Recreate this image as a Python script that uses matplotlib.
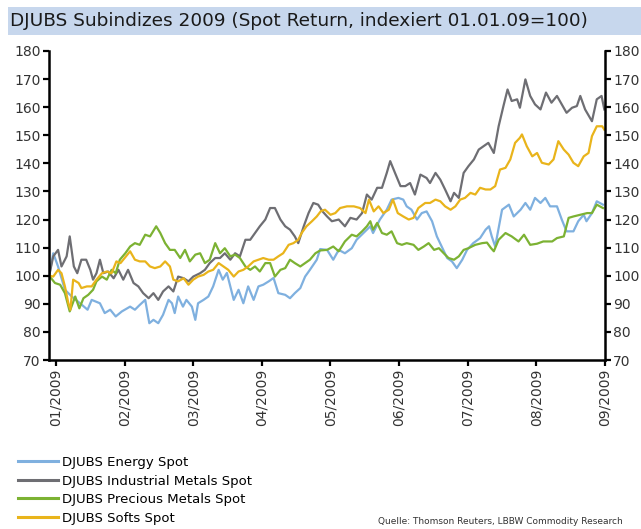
#!/usr/bin/env python3
"""
DJUBS Subindizes 2009, spot return indexed to 01.01.09 = 100
"""

import matplotlib
matplotlib.use('Agg')
import matplotlib.pyplot as plt
from matplotlib.patches import Rectangle
from matplotlib.lines import Line2D

plt.rcParams['font.family'] = ['DejaVu Sans']

month_labels = ['01/2009', '02/2009', '03/2009', '04/2009', '05/2009',
                '06/2009', '07/2009', '08/2009', '09/2009']
series_names = ['DJUBS Energy Spot', 'DJUBS Industrial Metals Spot',
                'DJUBS Precious Metals Spot', 'DJUBS Softs Spot']
colors = ['#7fb0df', '#6e6e73', '#7cb233', '#e9b41b']

# month position (0 = 01/2009) and index value
energy_x = [-0.10, -0.04, 0.03, 0.13, 0.23, 0.35, 0.46, 0.52, 0.64, 0.71, 0.79, 0.87, 0.96,
            1.08, 1.15, 1.22, 1.30, 1.36, 1.42, 1.49, 1.56, 1.64, 1.69, 1.73, 1.78, 1.85,
            1.90, 1.98, 2.03, 2.07, 2.15, 2.22, 2.29, 2.37, 2.43, 2.49, 2.59, 2.66, 2.73,
            2.80, 2.88, 2.95, 3.02, 3.10, 3.17, 3.24, 3.34, 3.41, 3.48, 3.56, 3.63, 3.70,
            3.80, 3.85, 3.95, 4.04, 4.12, 4.21, 4.31, 4.38, 4.48, 4.58, 4.62, 4.72, 4.82,
            4.89, 4.99, 5.06, 5.11, 5.18, 5.26, 5.33, 5.40, 5.48, 5.55, 5.62, 5.70, 5.77,
            5.84, 5.92, 5.99, 6.08, 6.18, 6.26, 6.31, 6.35, 6.40, 6.50, 6.60, 6.67, 6.77,
            6.84, 6.91, 6.98, 7.06, 7.13, 7.20, 7.30, 7.37, 7.44, 7.54, 7.61, 7.69, 7.73,
            7.81, 7.88, 7.97]
energy = [100.0, 108.0, 103.3, 95.0, 92.6, 90.2, 87.9, 91.4, 90.2, 86.7, 87.9, 85.5, 87.3,
          89.0, 87.9, 89.6, 91.4, 83.1, 84.3, 83.1, 86.1, 91.4, 90.2, 86.7, 92.6, 89.0,
          91.4, 89.0, 84.3, 90.2, 91.4, 92.6, 96.2, 102.1, 98.6, 101.0, 91.4, 95.0, 90.2,
          96.2, 91.4, 96.2, 96.8, 98.0, 99.2, 93.8, 93.2, 92.0, 93.8, 95.6, 99.7, 102.1,
          105.7, 109.5, 109.2, 105.7, 109.2, 108.0, 109.8, 112.8, 115.2, 117.6, 115.2, 120.0, 123.5,
          127.1, 127.7, 127.1, 124.7, 123.5, 120.0, 122.3, 122.9, 119.4, 114.0, 110.4, 106.3, 105.1,
          102.7, 105.7, 109.2, 111.6, 113.4, 116.4, 117.6, 114.0, 110.4, 123.5, 125.3, 121.1, 123.5,
          125.9, 123.5, 127.7, 125.9, 127.7, 124.7, 124.7, 120.0, 115.8, 115.8, 119.4, 121.7, 119.4,
          122.3, 126.5, 125.3]

indmet_x = [-0.10, -0.04, 0.03, 0.08, 0.155, 0.20, 0.26, 0.31, 0.37, 0.44, 0.50, 0.54, 0.59,
            0.64, 0.69, 0.76, 0.84, 0.91, 0.98, 1.05, 1.13, 1.20, 1.27, 1.35, 1.42, 1.49,
            1.56, 1.64, 1.71, 1.78, 1.86, 1.93, 2.00, 2.10, 2.17, 2.24, 2.32, 2.39, 2.46,
            2.54, 2.61, 2.68, 2.76, 2.83, 2.90, 2.97, 3.05, 3.12, 3.19, 3.27, 3.34, 3.41,
            3.48, 3.53, 3.61, 3.68, 3.75, 3.82, 3.88, 3.95, 4.02, 4.12, 4.21, 4.29, 4.38,
            4.46, 4.53, 4.60, 4.68, 4.75, 4.82, 4.87, 4.94, 5.02, 5.09, 5.16, 5.23, 5.31,
            5.40, 5.45, 5.53, 5.60, 5.67, 5.75, 5.80, 5.87, 5.94, 6.01, 6.09, 6.16, 6.23,
            6.30, 6.38, 6.45, 6.52, 6.58, 6.64, 6.72, 6.76, 6.84, 6.91, 6.98, 7.06, 7.14,
            7.22, 7.30, 7.37, 7.44, 7.52, 7.59, 7.64, 7.71, 7.81, 7.88, 7.95, 7.99]
indmet = [100.0, 106.9, 109.2, 103.3, 106.9, 114.0, 103.3, 100.9, 105.7, 105.7, 102.1, 98.6, 100.9,
          105.7, 100.9, 101.5, 99.1, 102.1, 98.6, 102.1, 97.4, 96.2, 93.8, 92.0, 93.8, 91.4,
          94.4, 96.2, 94.4, 99.7, 99.1, 98.0, 99.7, 100.9, 102.1, 104.5, 106.3, 106.3, 108.0,
          105.7, 108.0, 106.9, 112.8, 112.8, 115.2, 117.6, 120.0, 124.1, 124.1, 120.0, 117.6, 116.4,
          114.0, 111.6, 117.6, 122.3, 125.9, 125.3, 123.0, 121.1, 119.4, 120.0, 117.6, 120.6, 120.0,
          122.3, 128.9, 127.1, 131.3, 131.3, 136.6, 140.8, 136.6, 131.9, 131.9, 133.0, 128.9, 136.0,
          134.8, 133.0, 136.6, 134.2, 130.7, 126.5, 129.5, 127.7, 136.6, 139.0, 141.4, 144.9, 146.1,
          147.3, 143.7, 153.2, 160.4, 166.3, 162.2, 162.8, 159.8, 169.9, 164.0, 161.0, 159.2, 165.2,
          161.6, 164.0, 161.0, 158.0, 159.8, 160.4, 164.0, 159.2, 155.0, 162.8, 164.0, 159.2]

premet_x = [-0.10, -0.015, 0.06, 0.13, 0.20, 0.28, 0.34, 0.40, 0.47, 0.54, 0.59, 0.67, 0.74,
            0.81, 0.87, 0.93, 1.01, 1.08, 1.15, 1.22, 1.30, 1.37, 1.46, 1.52, 1.59, 1.66,
            1.73, 1.81, 1.88, 1.95, 2.03, 2.10, 2.17, 2.24, 2.32, 2.39, 2.46, 2.54, 2.61,
            2.68, 2.76, 2.83, 2.90, 2.97, 3.05, 3.12, 3.19, 3.27, 3.34, 3.41, 3.48, 3.56,
            3.63, 3.70, 3.78, 3.85, 3.95, 4.04, 4.12, 4.21, 4.31, 4.38, 4.46, 4.53, 4.58,
            4.62, 4.68, 4.75, 4.82, 4.89, 4.97, 5.04, 5.11, 5.21, 5.28, 5.36, 5.43, 5.51,
            5.58, 5.65, 5.72, 5.80, 5.87, 5.94, 6.01, 6.11, 6.21, 6.28, 6.34, 6.38, 6.45,
            6.55, 6.64, 6.74, 6.82, 6.91, 7.01, 7.10, 7.23, 7.30, 7.40, 7.47, 7.54, 7.64,
            7.74, 7.81, 7.88, 7.97]
premet = [100.0, 97.4, 96.8, 93.8, 87.3, 92.6, 88.4, 92.0, 93.2, 95.0, 98.0, 99.7, 98.6,
          102.1, 100.9, 105.7, 108.0, 110.4, 111.6, 111.0, 114.6, 114.0, 117.6, 115.2, 111.6, 109.2,
          109.2, 106.3, 109.2, 105.1, 107.5, 108.0, 104.5, 105.7, 111.6, 108.0, 109.8, 106.9, 107.5,
          106.3, 103.3, 102.1, 103.3, 101.5, 104.5, 104.5, 99.7, 102.1, 102.7, 105.7, 104.5, 103.3,
          104.5, 105.7, 108.0, 109.0, 109.2, 110.4, 108.7, 112.2, 114.6, 114.0, 115.8, 117.6, 119.4,
          116.4, 118.8, 115.2, 114.6, 115.8, 111.6, 111.0, 111.6, 111.0, 109.2, 110.4, 111.6, 109.2,
          109.8, 108.0, 106.3, 105.7, 106.9, 109.2, 109.8, 111.0, 111.6, 111.8, 109.8, 108.7, 112.8,
          115.2, 114.0, 112.2, 114.6, 111.0, 111.4, 112.2, 112.2, 113.4, 114.0, 120.6, 121.1, 121.7,
          122.3, 122.3, 125.3, 124.1]

softs_x = [-0.10, -0.04, 0.03, 0.08, 0.13, 0.18, 0.21, 0.25, 0.33, 0.37, 0.45, 0.52, 0.59,
           0.67, 0.74, 0.81, 0.88, 0.94, 1.02, 1.08, 1.15, 1.22, 1.30, 1.37, 1.44, 1.52,
           1.59, 1.66, 1.71, 1.78, 1.86, 1.93, 2.00, 2.07, 2.15, 2.22, 2.29, 2.37, 2.44,
           2.51, 2.59, 2.66, 2.73, 2.80, 2.88, 2.95, 3.02, 3.10, 3.17, 3.24, 3.31, 3.39,
           3.46, 3.53, 3.58, 3.65, 3.73, 3.80, 3.86, 3.92, 4.00, 4.07, 4.14, 4.24, 4.34,
           4.43, 4.51, 4.56, 4.63, 4.70, 4.77, 4.85, 4.91, 4.98, 5.06, 5.14, 5.21, 5.28,
           5.38, 5.45, 5.53, 5.60, 5.67, 5.75, 5.82, 5.89, 5.96, 6.04, 6.11, 6.18, 6.26,
           6.33, 6.40, 6.47, 6.55, 6.62, 6.69, 6.76, 6.79, 6.86, 6.94, 7.01, 7.08, 7.18,
           7.25, 7.32, 7.40, 7.47, 7.54, 7.61, 7.69, 7.76, 7.81, 7.88, 7.96, 7.99]
softs = [100.0, 99.7, 102.1, 100.9, 96.2, 90.2, 87.9, 98.6, 97.4, 95.6, 96.2, 96.2, 98.6,
         100.9, 101.5, 100.9, 105.1, 104.5, 106.9, 108.7, 105.7, 105.1, 105.1, 103.3, 102.7, 103.3,
         105.1, 103.3, 98.6, 98.0, 99.1, 96.8, 98.6, 99.7, 100.3, 101.5, 102.1, 104.5, 103.3,
         102.1, 99.7, 101.5, 102.1, 103.3, 105.1, 105.7, 106.3, 105.7, 105.7, 106.9, 108.0, 111.0,
         111.6, 112.8, 115.2, 117.6, 119.4, 121.1, 123.0, 123.5, 121.7, 122.3, 124.1, 124.7, 124.7,
         124.1, 122.3, 127.1, 122.9, 124.7, 122.3, 123.5, 127.1, 122.3, 121.1, 120.0, 120.6, 124.1,
         125.9, 125.9, 127.1, 126.5, 124.7, 123.5, 124.7, 127.1, 127.7, 129.5, 128.9, 131.3, 130.7,
         130.7, 131.9, 137.8, 138.4, 141.4, 147.3, 149.1, 150.3, 146.1, 142.5, 143.7, 140.2, 139.6,
         141.4, 147.9, 144.9, 143.1, 140.2, 139.0, 142.5, 143.7, 149.7, 153.2, 153.2, 152.0]

y_ticks = list(range(70, 181, 10))

fig = plt.figure(figsize=(6.41, 5.29), dpi=100)

# title bar
fig.patches.append(Rectangle((8/641, 1-35/529), 633/641, 28/529, transform=fig.transFigure,
                             facecolor='#c7d7ed', edgecolor='none', zorder=0))
fig.text(10/641, 1-21/529, 'DJUBS Subindizes 2009 (Spot Return, indexiert 01.01.09=100)',
         fontsize=13.3, color='#1a1a1a', va='center', ha='left')

ax = fig.add_axes([49/641, 1-360/529, 556/641, 309/529])
all_x = [energy_x, indmet_x, premet_x, softs_x]
all_y = [energy, indmet, premet, softs]
for xs, ys, c, name in zip(all_x, all_y, colors, series_names):
    ax.plot(xs, ys, color=c, lw=1.6, label=name)

ax.set_xlim(-0.102, 8.0)
ax.set_ylim(70, 180)
ax.set_yticks(y_ticks)
ax.set_xticks(range(len(month_labels)))
ax.set_xticklabels(month_labels, rotation=90)
ax.tick_params(axis='both', direction='out', length=4, width=1.6, labelsize=10,
               colors='black', labelcolor='#333333', pad=2)
ax.tick_params(axis='y', right=True, labelright=True)
ax.spines['top'].set_visible(False)
for s in ['left', 'right', 'bottom']:
    ax.spines[s].set_linewidth(1.8)

handles = [Line2D([], [], color=c, lw=2.2) for c in colors]
fig.legend(handles, series_names, loc='upper left', bbox_to_anchor=(18/641, 1-456/529),
           frameon=False, fontsize=9.5, handlelength=3.0, handletextpad=0.3,
           labelspacing=0.42, borderaxespad=0, borderpad=0)

fig.text(623/641, 1-521/529, 'Quelle: Thomson Reuters, LBBW Commodity Research',
         fontsize=6.5, color='#333333', ha='right', va='center')

plt.savefig('out.png', dpi=100)
plt.close('all')
